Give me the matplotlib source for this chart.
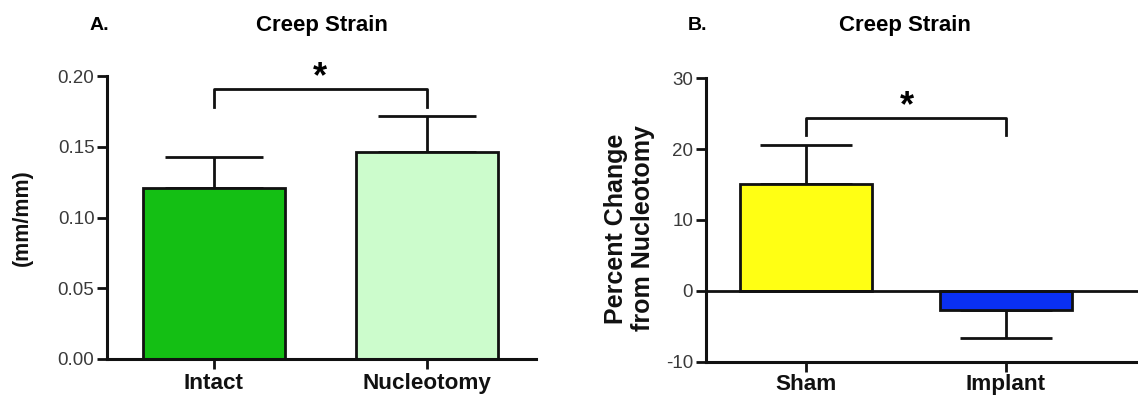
import matplotlib
matplotlib.use("Agg")
import matplotlib.pyplot as plt

plt.rcParams['font.family'] = ['Liberation Sans', 'DejaVu Sans']

# Panel A data
cats_a = ['Intact', 'Nucleotomy']
vals_a = [0.121, 0.146]
errs_a = [0.022, 0.026]
colors_a = ['#14BF14', '#CCFCCC']
yticks_a = [0.00, 0.05, 0.10, 0.15, 0.20]
yticklabels_a = ['0.00', '0.05', '0.10', '0.15', '0.20']

# Panel B data
cats_b = ['Sham', 'Implant']
vals_b = [15.0, -2.7]
errs_b = [5.5, 3.9]
colors_b = ['#FFFF14', '#0A30F2']
yticks_b = [-10, 0, 10, 20, 30]
yticklabels_b = ['-10', '0', '10', '20', '30']

fig = plt.figure(figsize=(11.38, 3.98), dpi=100)
axA = fig.add_axes([0.094, 0.098, 0.377, 0.711])
axB = fig.add_axes([0.620, 0.0905, 0.380, 0.7135])

tick_color = '#3a3a3a'
lw = 2.0

def style(ax, xpad):
    for s in ['top', 'right']:
        ax.spines[s].set_visible(False)
    for s in ['left', 'bottom']:
        ax.spines[s].set_linewidth(2.2)
        ax.spines[s].set_color('#111111')
    ax.tick_params(axis='both', length=7, width=2.0, color='#111111')
    ax.tick_params(axis='y', labelsize=13.5, labelcolor=tick_color, pad=2)
    ax.tick_params(axis='x', labelsize=16.2, pad=xpad)
    for t in ax.get_xticklabels():
        t.set_fontweight('bold')
        t.set_color('#111111')

# Panel A
xa = list(range(len(cats_a)))
axA.bar(xa, vals_a, width=0.667, color=colors_a, edgecolor='#111111', linewidth=lw, zorder=2)
axA.errorbar(xa, vals_a, yerr=[[0, 0], errs_a], fmt='none', ecolor='#111111',
             elinewidth=lw, capsize=35, capthick=lw, zorder=1)
axA.set_xlim(-0.5, 1.51)
axA.set_ylim(0, 0.20)
axA.set_yticks(yticks_a)
axA.set_yticklabels(yticklabels_a)
axA.set_xticks(xa)
axA.set_xticklabels(cats_a)
style(axA, 3)
axA.set_ylabel('(mm/mm)', fontsize=15.5, fontweight='bold', color='#111111')
axA.yaxis.set_label_coords(-0.172, 0.5)
axA.plot([0, 0, 1, 1], [0.178, 0.191, 0.191, 0.178], color='#111111', lw=lw, clip_on=False)
axA.text(0.5, 0.199, '*', fontsize=26, fontweight='bold', ha='center', va='center')

# Panel B
xb = list(range(len(cats_b)))
axB.bar(xb, vals_b, width=0.66, color=colors_b, edgecolor='#111111', linewidth=lw, zorder=2)
axB.errorbar(xb, vals_b, yerr=[[0, errs_b[1]], [errs_b[0], 0]], fmt='none', ecolor='#111111',
             elinewidth=lw, capsize=33, capthick=lw, zorder=1)
axB.axhline(0, color='#111111', lw=2.0, zorder=3)
axB.set_xlim(-0.5, 1.66)
axB.set_ylim(-10, 30)
axB.set_yticks(yticks_b)
axB.set_yticklabels(yticklabels_b)
axB.set_xticks(xb)
axB.set_xticklabels(cats_b)
style(axB, 1.5)
axB.set_ylabel('Percent Change\nfrom Nucleotomy', fontsize=18, fontweight='bold',
               color='#111111', linespacing=1.15)
axB.yaxis.set_label_coords(-0.118, 0.47)
axB.plot([0, 0, 1, 1], [22.0, 24.4, 24.4, 22.0], color='#111111', lw=lw, clip_on=False)
axB.text(0.505, 26.0, '*', fontsize=26, fontweight='bold', ha='center', va='center')

# Titles
fig.text(0.079, 0.937, 'A.', fontsize=14, fontweight='bold', ha='left', va='center')
fig.text(0.283, 0.937, 'Creep Strain', fontsize=16, fontweight='bold', ha='center', va='center')
fig.text(0.604, 0.937, 'B.', fontsize=14, fontweight='bold', ha='left', va='center')
fig.text(0.795, 0.937, 'Creep Strain', fontsize=16, fontweight='bold', ha='center', va='center')

fig.savefig('out.png', dpi=100, facecolor='white')
